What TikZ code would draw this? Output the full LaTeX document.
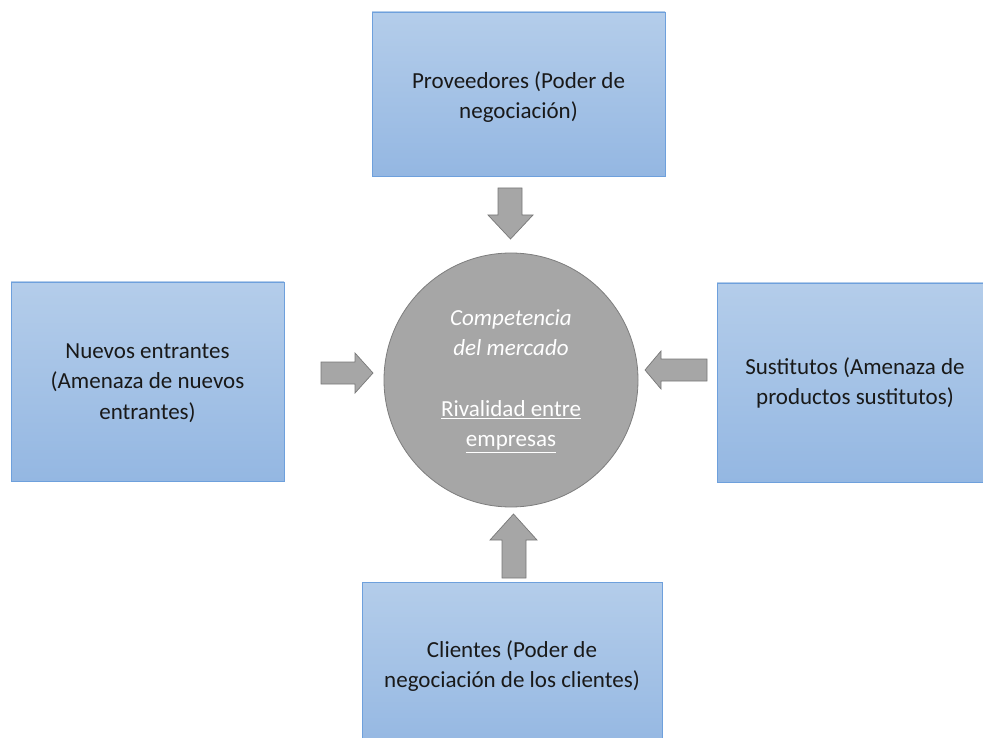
\documentclass[tikz,border=0pt]{standalone}
\usepackage{fontspec}
\setmainfont{Carlito}
\definecolor{boxtop}{RGB}{180,205,234}
\definecolor{boxbot}{RGB}{148,183,226}
\definecolor{boxline}{RGB}{110,160,220}
\definecolor{circfill}{RGB}{166,166,166}
\definecolor{circline}{RGB}{125,125,125}
\definecolor{arrfill}{RGB}{166,166,166}
\definecolor{arrline}{RGB}{120,120,120}
\tikzset{
  forcebox/.style={draw=boxline, line width=0.8pt, top color=boxtop, bottom color=boxbot, shading angle=0},
  forcetext/.style={align=center, font=\fontsize{23}{30.5}\selectfont, text=black!90, inner sep=0pt},
  blockarrow/.style={draw=arrline, fill=arrfill, line width=0.7pt, line join=miter}
}
\begin{document}
\begin{tikzpicture}[x=1pt,y=-1pt]
\useasboundingbox (0,0) rectangle (983,738);
\clip (0,0) rectangle (983,738);
% boxes
\path[forcebox] (372,12) rectangle (665,176);
\node[forcetext] (prov) at (518.5,97) {Proveedores (Poder de\\negociación)};
\path[forcebox] (11,282) rectangle (284,481);
\node[forcetext] (nuevos) at (147.5,383) {Nuevos entrantes\\(Amenaza de nuevos\\entrantes)};
\path[forcebox] (717,283) rectangle (993,482);
\node[forcetext] (sust) at (855,383) {Sustitutos (Amenaza de\\productos sustitutos)};
\path[forcebox] (362,582) rectangle (662,752);
\node[forcetext] (cli) at (512,666) {Clientes\ (Poder de\\negociación de los clientes)};
% circle
\node[circle, draw=circline, fill=circfill, line width=0.8pt, minimum size=254pt, inner sep=0pt] (comp) at (511,380) {};
\node[forcetext, text=white] (comptext) at (511,381) {\itshape Competencia\\\itshape del mercado\\[30pt]\underline{Rivalidad entre}\\\underline{empresas}};
% arrows
\draw[blockarrow] (498,188) -- (522,188) -- (522,215) -- (533,215) -- (510.5,239) -- (488,215) -- (498,215) -- cycle;
\draw[blockarrow] (321,362) -- (355,362) -- (355,353) -- (373,373) -- (355,393) -- (355,384) -- (321,384) -- cycle;
\draw[blockarrow] (707,359) -- (661,359) -- (661,351) -- (645,370) -- (661,389) -- (661,381) -- (707,381) -- cycle;
\draw[blockarrow] (502,578) -- (526,578) -- (526,540) -- (537,540) -- (513.5,514) -- (490,540) -- (502,540) -- cycle;
\end{tikzpicture}
\end{document}
